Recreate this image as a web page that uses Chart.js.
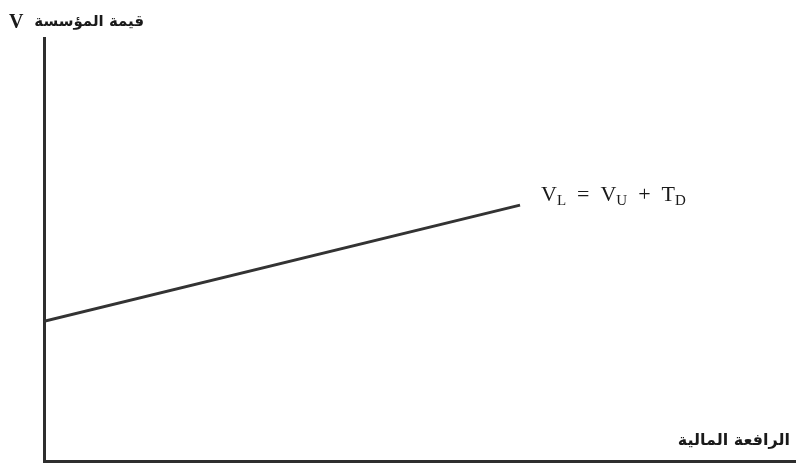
<!DOCTYPE html>
<html>
<head>
<meta charset="utf-8">
<script src="https://cdn.jsdelivr.net/npm/chart.js@4.4.1/dist/chart.umd.min.js"></script>
<style>
  html, body { margin: 0; padding: 0; background: #fff; }
  #wrap { width: 796px; height: 463px; }
</style>
</head>
<body>
<div id="wrap"><canvas id="plot-data"></canvas></div>
<script>
// leverage (x) and firm value (y)
var leverage = [0, 63.3];
var firmValue = [33, 60.5];

var yLabelSymbol = 'V';
var yLabelText = 'قيمة المؤسسة';
var xLabelText = 'الرافعة المالية';
var lineLabel = [['V', 'L'], ['  =  '], ['V', 'U'], ['  +  '], ['T', 'D']];

var axisColor = '#2e2e2e';

const textLabels = {
    id: 'textLabels',
    afterDraw(chart) {
        const ctx = chart.ctx;
        const xs = chart.scales.x, ys = chart.scales.y;
        ctx.save();
        ctx.fillStyle = '#1a1a1a';
        ctx.textBaseline = 'alphabetic';

        // y axis title
        ctx.textAlign = 'left';
        ctx.font = 'bold 20px "Liberation Serif"';
        ctx.fillText(yLabelSymbol, 9, 28);
        ctx.font = 'bold 15px "DejaVu Sans"';
        ctx.direction = 'rtl';
        ctx.textAlign = 'right';
        ctx.fillText(yLabelText, 144, 26);

        // x axis title
        ctx.font = 'bold 16px "DejaVu Sans"';
        ctx.fillText(xLabelText, 790, 445);
        ctx.direction = 'ltr';
        ctx.textAlign = 'left';

        // line label with subscripts
        let px = xs.getPixelForValue(leverage[leverage.length - 1]) + 21;
        let py = ys.getPixelForValue(firmValue[firmValue.length - 1]) - 4;
        lineLabel.forEach(function(part) {
            ctx.font = '22px "Liberation Serif"';
            ctx.fillText(part[0], px, py);
            px += ctx.measureText(part[0]).width;
            if (part[1]) {
                ctx.font = '15px "Liberation Serif"';
                ctx.fillText(part[1], px, py + 4);
                px += ctx.measureText(part[1]).width;
            }
        });
        ctx.restore();
    }
};

var ctx = document.getElementById('plot-data').getContext('2d');
var chart = new Chart(ctx, {
    type: 'line',
    data: {
        datasets: [{
            borderColor: '#333',
            borderWidth: 3,
            radius: 0,
            data: leverage.map(function(v, i) { return { x: v, y: firmValue[i] }; })
        }]
    },
    options: {
        responsive: true,
        maintainAspectRatio: false,
        animation: false,
        layout: {
            padding: { left: 44, top: 38, right: 0, bottom: 2 }
        },
        plugins: {
            legend: { display: false },
            tooltip: { enabled: false }
        },
        scales: {
            x: {
                type: 'linear',
                min: 0,
                max: 100,
                grid: { display: false, drawTicks: false },
                ticks: { display: false },
                border: { display: true, color: axisColor, width: 3 }
            },
            y: {
                min: 0,
                max: 100,
                grid: { display: false, drawTicks: false },
                ticks: { display: false },
                border: { display: true, color: axisColor, width: 3 }
            }
        }
    },
    plugins: [textLabels]
});
</script>
</body>
</html>
